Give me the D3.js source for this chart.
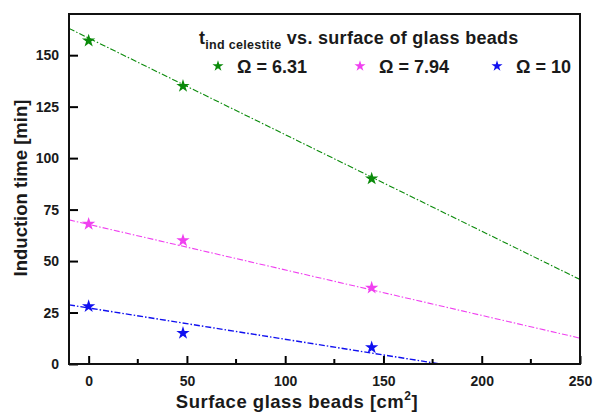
<!DOCTYPE html>
<html>
<head>
<meta charset="utf-8">
<script src="https://cdn.jsdelivr.net/npm/d3@7"></script>
<style>
  html, body { margin: 0; padding: 0; background: #fff; }
  svg { display: block; font-family: "Liberation Sans", Arial, sans-serif; }
</style>
</head>
<body>
<svg id="chart" width="595" height="414"></svg>
<script>
// Glass-bead surface area [cm²]
const surface = [0, 48, 144];

// Measured induction times [min] per supersaturation
const seriesNames = ["Ω = 6.31", "Ω = 7.94", "Ω = 10"];
const time631 = [157, 135, 90];
const time794 = [68, 60, 37];
const time10 = [28, 15, 8];

// Linear fits: intercept [min] and slope [min/cm²]
const fitIntercept = [158.3, 67.8, 27.2];
const fitSlope = [-0.469, -0.221, -0.152];

const seriesColors = ["#0a8a0a", "#f040f0", "#1010f0"];

const xTicks = [0, 50, 100, 150, 200, 250];
const xMinorTicks = [25, 75, 125, 175, 225];
const yTicks = [0, 25, 50, 75, 100, 125, 150];

const svg = d3.select("#chart");
const m = { left: 69, right: 15, top: 14, bottom: 50 };
const W = 595, H = 414;

const x = d3.scaleLinear().domain([-10, 250]).range([m.left, W - m.right]);
const y = d3.scaleLinear().domain([0, 170]).range([H - m.bottom, m.top]);

const defs = svg.append("defs");
defs.append("clipPath").attr("id", "plotclip")
  .append("rect")
  .attr("x", x.range()[0]).attr("y", y.range()[1])
  .attr("width", x.range()[1] - x.range()[0])
  .attr("height", y.range()[0] - y.range()[1]);

const series = [time631, time794, time10].map((vals, i) => ({
  name: seriesNames[i],
  color: seriesColors[i],
  points: surface.map((s, j) => ({ x: s, y: vals[j] })),
  a: fitIntercept[i],
  b: fitSlope[i]
}));

// Fit lines across the x domain, clipped to the plot frame
const plot = svg.append("g").attr("clip-path", "url(#plotclip)");
const [x0, x1] = x.domain();
series.forEach((s, i) => {
  plot.append("line")
    .attr("x1", x(x0)).attr("y1", y(s.a + s.b * x0))
    .attr("x2", x(x1)).attr("y2", y(s.a + s.b * x1))
    .attr("stroke", s.color)
    .attr("stroke-width", i === 2 ? 1.4 : 1.1)
    .attr("stroke-dasharray", "6,2,1.5,2");
});

// Star markers
const star = d3.symbol().type(d3.symbolStar).size(55);
const legendStar = d3.symbol().type(d3.symbolStar).size(38);
series.forEach(s => {
  svg.append("g").selectAll("path")
    .data(s.points)
    .join("path")
    .attr("d", star)
    .attr("transform", d => `translate(${x(d.x)},${y(d.y)})`)
    .attr("fill", s.color);
});

// Axes with inward ticks
const xAxis = svg.append("g")
  .attr("transform", `translate(0,${y.range()[0]})`)
  .call(d3.axisBottom(x).tickValues(xTicks).tickSizeInner(-8).tickSizeOuter(0).tickPadding(12));
xAxis.append("g").selectAll("line")
  .data(xMinorTicks).join("line")
  .attr("x1", d => x(d)).attr("x2", d => x(d))
  .attr("y1", 0).attr("y2", -5)
  .attr("stroke", "#000").attr("stroke-width", 2);

const yAxis = svg.append("g")
  .attr("transform", `translate(${x.range()[0]},0)`)
  .call(d3.axisLeft(y).tickValues(yTicks).tickSizeInner(-9).tickSizeOuter(0).tickPadding(10));

[xAxis, yAxis].forEach(ax => {
  ax.select(".domain").remove();
  ax.selectAll(".tick line").attr("stroke", "#000").attr("stroke-width", 2);
  ax.selectAll("text")
    .attr("fill", "#1a1a1a")
    .style("font-size", "14px")
    .style("font-weight", "bold")
    .style("font-family", "'Liberation Sans', Arial, sans-serif");
});

// Frame
svg.append("rect")
  .attr("x", x.range()[0]).attr("y", y.range()[1])
  .attr("width", x.range()[1] - x.range()[0])
  .attr("height", y.range()[0] - y.range()[1])
  .attr("fill", "none").attr("stroke", "#111").attr("stroke-width", 2);

// Axis titles
svg.append("text")
  .attr("x", 297)
  .attr("y", 408)
  .attr("text-anchor", "middle")
  .style("font-size", "18.5px").style("font-weight", "bold").style("letter-spacing", "0.5px")
  .attr("fill", "#1a1a1a")
  .call(t => {
    t.append("tspan").text("Surface glass beads [cm");
    t.append("tspan").text("2").attr("dy", -8).style("font-size", "12px");
    t.append("tspan").text("]").attr("dy", 8);
  });

svg.append("text")
  .attr("transform", `translate(27,188) rotate(-90)`)
  .attr("text-anchor", "middle")
  .style("font-size", "18.5px").style("font-weight", "bold").attr("fill", "#1a1a1a")
  .text("Induction time [min]");

// Legend title
svg.append("text")
  .attr("x", 199).attr("y", 44)
  .style("font-size", "18px").style("font-weight", "bold").style("letter-spacing", "0.3px")
  .attr("fill", "#1a1a1a")
  .call(t => {
    t.append("tspan").text("t");
    t.append("tspan").text("ind celestite").attr("dy", 5).style("font-size", "12.5px");
    t.append("tspan").text(" vs. surface of glass beads").attr("dy", -5);
  });

// Legend entries
const legendX = [218, 360, 497];
series.forEach((s, i) => {
  const g = svg.append("g").attr("transform", `translate(${legendX[i]},66)`);
  g.append("path").attr("d", legendStar).attr("fill", s.color);
  g.append("text")
    .attr("x", 19).attr("y", 6.5)
    .style("font-size", "18px").style("font-weight", "bold").attr("fill", "#1a1a1a")
    .text(s.name);
});
</script>
</body>
</html>
